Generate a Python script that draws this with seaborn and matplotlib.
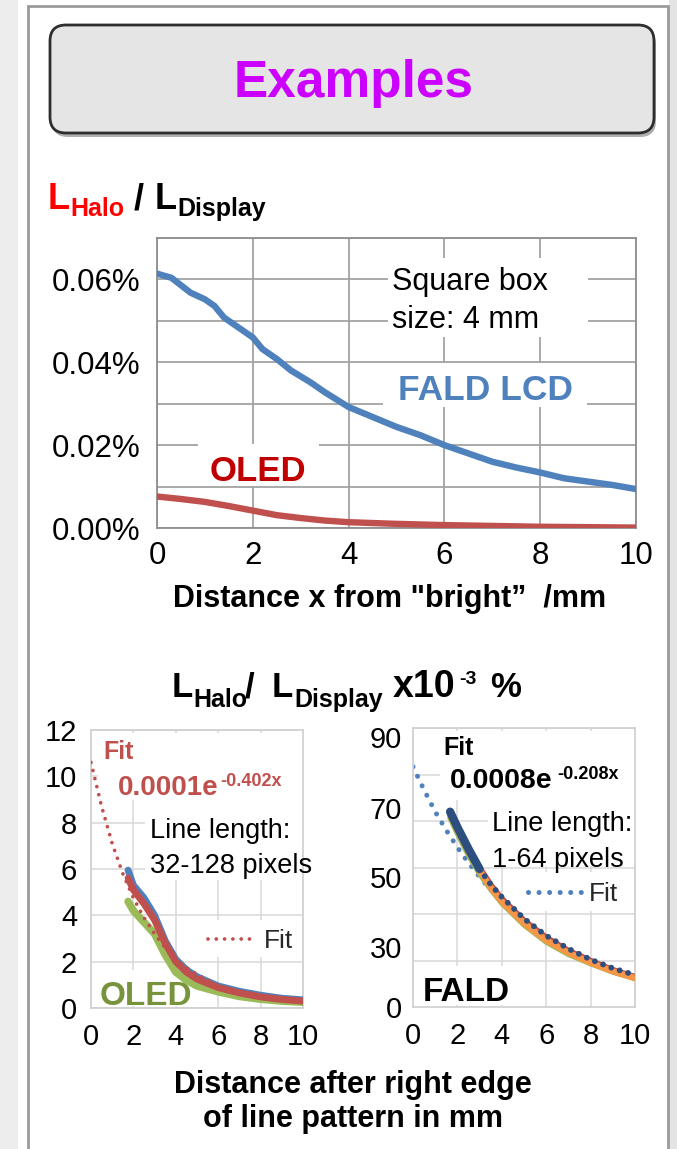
import matplotlib
matplotlib.use("Agg")
import matplotlib.pyplot as plt
from matplotlib.patches import Rectangle, FancyBboxPatch
from matplotlib.transforms import Affine2D
import seaborn as sns

# --- values ---
# top chart: L_Halo / L_Display in %, square box 4 mm
top_x_ticks = [0, 2, 4, 6, 8, 10]
top_y_ticks = [0.0, 0.01, 0.02, 0.03, 0.04, 0.05, 0.06, 0.07]
top_y_labels = ['0.00%', '', '0.02%', '', '0.04%', '', '0.06%', '']

lcd_x = [0, 0.3, 0.7, 1.0, 1.2, 1.4, 2.0, 2.2, 2.5, 2.8, 3.2, 3.5, 4.0, 4.5,
         5.0, 5.5, 6.0, 6.5, 7.0, 7.5, 8.0, 8.5, 9.0, 9.5, 10.0]
lcd_y = [0.0614, 0.0604, 0.0568, 0.0552, 0.0536, 0.0508, 0.0460, 0.0432, 0.0408,
         0.0380, 0.0352, 0.0328, 0.0292, 0.0268, 0.0244, 0.0224, 0.0200, 0.0180,
         0.0160, 0.0146, 0.0134, 0.0120, 0.0112, 0.0104, 0.0094]
oled_x = [0, 0.5, 1, 1.5, 2, 2.5, 3, 3.5, 4, 5, 6, 7, 8, 9, 10]
oled_y = [0.0076, 0.0070, 0.0063, 0.0053, 0.0042, 0.0031, 0.0024, 0.0018, 0.0014,
          0.0010, 0.0007, 0.0005, 0.0003, 0.0002, 0.0001]

# bottom charts: x10^-3 %, line patterns
fit_x = [0, 0.5, 1, 1.5, 2, 2.5, 3, 3.5, 4, 4.5, 5, 5.5, 6, 6.5, 7, 7.5, 8, 8.5, 9, 9.5, 10]
oled_fit = [10.6, 8.7, 7.1, 5.8, 4.75, 3.9, 3.2, 2.6, 2.1, 1.75, 1.45, 1.2, 0.98,
            0.82, 0.68, 0.56, 0.47, 0.4, 0.34, 0.29, 0.25]
fald_fit = [77.5, 70, 63, 57, 51.5, 46.5, 42, 37.8, 34, 30.7, 27.7, 25, 22.5, 20.3,
            18.3, 16.5, 14.9, 13.4, 12.1, 10.9, 9.8]

oled_line_x = [1.75, 2.0, 2.5, 3.0, 3.5, 4.0, 4.5, 5, 6, 7, 8, 9, 10]
oled_blue = [5.95, 5.3, 4.75, 4.0, 2.9, 2.1, 1.65, 1.35, 0.95, 0.72, 0.55, 0.42, 0.35]
oled_red = [5.6, 5.1, 4.5, 3.8, 2.8, 2.0, 1.55, 1.25, 0.88, 0.65, 0.48, 0.37, 0.3]
oled_green = [4.6, 4.2, 3.7, 3.2, 2.3, 1.55, 1.2, 0.95, 0.7, 0.5, 0.38, 0.3, 0.25]

fald_line_x = [1.67, 2, 2.5, 3, 3.5, 4, 5, 6, 7, 8, 9, 10]
fald_navy = [63, 58, 51, 44.5, 39.5, 35.5, 28.5, 23, 18.8, 15.3, 12.5, 10.3]
fald_red = [63, 58, 51, 45, 39.5, 35, 28, 22.5, 18.2, 15, 12, 9.8]
fald_green = [61, 56, 49, 43, 38, 33.5, 26.5, 21, 17, 14, 11.3, 9.2]
fald_orange = [62, 57, 50, 44, 38.5, 34, 27, 21.5, 17.5, 14.3, 11.5, 9.3]

bottom_x_ticks = [0, 2, 4, 6, 8, 10]
oled_y_ticks = [0, 2, 4, 6, 8, 10, 12]
fald_grid_y = [0, 15, 30, 45, 60, 75, 90]
# the y labels of the FALD panel sit off the grid in the original
fald_tick_pos = [0, 19.4, 41.9, 64.2, 87.1]
fald_tick_labels = ['0', '30', '50', '70', '90']

BLUE = '#4f81bd'
RED = '#c0504d'
GREEN = '#9bbb59'
ORANGE = '#f79646'
NAVY = '#2c4f80'

sns.set_theme(style='white')
plt.rcParams['font.family'] = ['Liberation Sans', 'DejaVu Sans']
plt.rcParams['axes.unicode_minus'] = False

W, H = 677, 1149
fig = plt.figure(figsize=(W / 100, H / 100), dpi=100)
fig.patch.set_facecolor('white')
# pixel coordinates, origin top-left
PX = Affine2D().scale(1 / W, -1 / H).translate(0, 1) + fig.transFigure


def px_box(x0, y0, x1, y1):
    return [x0 / W, 1 - y1 / H, (x1 - x0) / W, (y1 - y0) / H]


def label(x, y, s, size, color='black', weight='normal', ha='left'):
    fig.text(x, y, s, transform=PX, fontsize=size, color=color,
             fontweight=weight, ha=ha, va='baseline', zorder=5)


def cover(ax, x0, y0, x1, y1):
    ax.add_patch(Rectangle((x0, y0), x1 - x0, y1 - y0, transform=PX,
                           fc='white', ec='none', zorder=1))


def dotted(size, gap):
    return dict(lw=size, linestyle=(0, (0.01, gap)), dash_capstyle='round')


# --- slide frame and header ---
fig.add_artist(Rectangle((0, 0), 18, H, transform=PX, fc='#ededed', ec='none', zorder=0))
fig.add_artist(Rectangle((669, 0), 8, H, transform=PX, fc='#e4e4e4', ec='none', zorder=0))
fig.add_artist(Rectangle((28, 6), 640, H, transform=PX, fc='white', ec='#9a9a9a',
                         lw=2, zorder=0))
fig.add_artist(FancyBboxPatch((52, 29), 604, 108, transform=PX,
                              boxstyle='round,pad=0,rounding_size=16',
                              fc='#6e6e6e', ec='none', alpha=0.55, zorder=0.2))
fig.add_artist(FancyBboxPatch((50, 25), 604, 108, transform=PX,
                              boxstyle='round,pad=0,rounding_size=16',
                              fc='#e5e5e5', ec='#2e2e2e', lw=2, zorder=0.3))
label(354, 97, 'Examples', 37, color='#cc00ff', weight='bold', ha='center')

# --- top chart ---
label(48, 209, 'L', 26, color='#ff0000', weight='bold')
label(70, 216, 'Halo', 18, color='#ff0000', weight='bold')
label(134, 209, '/', 26, weight='bold')
label(155, 209, 'L', 26, weight='bold')
label(177, 216, 'Display', 18, weight='bold')

ax1 = fig.add_axes(px_box(157, 238, 636, 528))
ax1.set_axisbelow(True)
sns.lineplot(x=oled_x, y=oled_y, ax=ax1, color=RED, lw=4.6, sort=False,
             estimator=None, zorder=3, solid_capstyle='round')
sns.lineplot(x=lcd_x, y=lcd_y, ax=ax1, color=BLUE, lw=4.6, sort=False,
             estimator=None, zorder=3, solid_capstyle='round')
ax1.set_xlim(0, 10)
ax1.set_ylim(0, 0.07)
ax1.set_xticks(top_x_ticks)
ax1.set_yticks(top_y_ticks)
ax1.set_yticklabels(top_y_labels)
ax1.grid(True, color='#a3a3a3', lw=1.3)
for side, sp in ax1.spines.items():
    sp.set_color('#8f8f8f')
    sp.set_linewidth(1.3)
ax1.tick_params(axis='x', length=0, pad=9, labelsize=22.5, labelcolor='black')
ax1.tick_params(axis='y', length=0, pad=12, labelsize=22.5, labelcolor='black')
ax1.set_xlabel('')
ax1.set_ylabel('')
cover(ax1, 388, 258, 588, 337)
cover(ax1, 383, 363, 587, 407)
cover(ax1, 198, 444, 319, 486)
label(392, 290, 'Square box', 22)
label(392, 328, 'size: 4 mm', 22)
label(485, 400, 'FALD LCD', 25.5, color=BLUE, weight='bold', ha='center')
label(258, 481, 'OLED', 25, color='#c00000', weight='bold', ha='center')
label(390, 607, 'Distance x from "bright\u201d  /mm', 22, weight='bold', ha='center')

# --- second title ---
label(172, 697, 'L', 25, weight='bold')
label(193, 707, 'Halo', 18, weight='bold')
label(245, 697, '/', 25, weight='bold')
label(272, 697, 'L', 25, weight='bold')
label(294, 707, 'Display', 18, weight='bold')
label(393, 697, 'x10', 27, weight='bold')
label(459, 684, '-3', 14, weight='bold')
label(490, 697, '%', 25, weight='bold')

# --- bottom left: OLED ---
ax2 = fig.add_axes(px_box(91, 730, 303, 1008))
ax2.set_axisbelow(True)
sns.lineplot(x=oled_line_x, y=oled_blue, ax=ax2, color=BLUE, lw=5, sort=False,
             estimator=None, zorder=3)
sns.lineplot(x=oled_line_x, y=oled_green, ax=ax2, color=GREEN, lw=5.5, sort=False,
             estimator=None, zorder=3)
sns.lineplot(x=oled_line_x, y=oled_red, ax=ax2, color=RED, lw=5, sort=False,
             estimator=None, zorder=3)
sns.lineplot(x=fit_x, y=oled_fit, ax=ax2, color=RED, sort=False, estimator=None,
             zorder=4, label='Fit', **dotted(2.7, 2.2))
ax2.set_xlim(0, 10)
ax2.set_ylim(0, 12)
ax2.set_xticks(bottom_x_ticks)
ax2.set_yticks(oled_y_ticks)
ax2.grid(True, color='#d9d9d9', lw=1.1)
for sp in ax2.spines.values():
    sp.set_color('#d0d0d0')
ax2.tick_params(axis='x', length=0, pad=11, labelsize=21, labelcolor='black')
ax2.tick_params(axis='y', length=0, pad=10, labelsize=21, labelcolor='black')
ax2.set_xlabel('')
ax2.set_ylabel('')
cover(ax2, 98, 733, 303, 800)
cover(ax2, 145, 800, 303, 880)
cover(ax2, 205, 920, 297, 957)
cover(ax2, 95, 970, 200, 1006)
ax2.legend(handles=[ax2.lines[-1]], labels=['Fit'], loc='center left',
           bbox_to_anchor=(208, 941), bbox_transform=PX, frameon=False,
           fontsize=19, handlelength=1.8, handletextpad=0.3,
           borderpad=0, borderaxespad=0)
label(103, 759, 'Fit', 18, color=RED, weight='bold')
label(118, 795, '0.0001e', 20, color=RED, weight='bold')
label(220, 786, '-0.402x', 13, color=RED, weight='bold')
label(150, 838, 'Line length:', 19.5)
label(150, 873, '32-128 pixels', 19.5)
label(100, 1005, 'OLED', 24, color='#77933c', weight='bold')

# --- bottom right: FALD ---
ax3 = fig.add_axes(px_box(413, 728, 635, 1007))
ax3.set_axisbelow(True)
sns.lineplot(x=fit_x, y=fald_fit, ax=ax3, color=BLUE, sort=False, estimator=None,
             zorder=2.5, label='Fit', **dotted(3.6, 2.1))
fit_handle = ax3.lines[-1]
sns.lineplot(x=fald_line_x, y=fald_green, ax=ax3, color=GREEN, lw=4, sort=False,
             estimator=None, zorder=3)
sns.lineplot(x=fald_line_x, y=fald_red, ax=ax3, color=RED, lw=4, sort=False,
             estimator=None, zorder=3)
sns.lineplot(x=fald_line_x, y=fald_orange, ax=ax3, color=ORANGE, lw=4.5, sort=False,
             estimator=None, zorder=3)
navy_head = [i for i, v in enumerate(fald_line_x) if v <= 3]
navy_tail = [i for i, v in enumerate(fald_line_x) if v >= 3]
sns.lineplot(x=[fald_line_x[i] for i in navy_head], y=[fald_navy[i] for i in navy_head],
             ax=ax3, color=NAVY, lw=6, sort=False, estimator=None, zorder=4)
sns.lineplot(x=[fald_line_x[i] for i in navy_tail], y=[fald_navy[i] for i in navy_tail],
             ax=ax3, color=NAVY, sort=False, estimator=None, zorder=4,
             **dotted(4.2, 1.5))
ax3.set_xlim(0, 10)
ax3.set_ylim(0, 90)
ax3.set_xticks(bottom_x_ticks)
ax3.set_yticks(fald_tick_pos)
ax3.set_yticklabels(fald_tick_labels)
ax3.set_yticks(fald_grid_y, minor=True)
ax3.grid(True, axis='x', color='#d9d9d9', lw=1.1)
ax3.grid(True, axis='y', which='minor', color='#d9d9d9', lw=1.1)
ax3.grid(False, axis='y', which='major')
for sp in ax3.spines.values():
    sp.set_color('#d0d0d0')
ax3.tick_params(axis='x', length=0, pad=11, labelsize=21, labelcolor='black')
ax3.tick_params(axis='y', which='both', length=0, pad=8, labelsize=21, labelcolor='black')
ax3.set_xlabel('')
ax3.set_ylabel('')
cover(ax3, 440, 731, 636, 800)
cover(ax3, 488, 800, 636, 866)
cover(ax3, 524, 872, 626, 911)
cover(ax3, 418, 966, 522, 1005)
ax3.legend(handles=[fit_handle], labels=['Fit'], loc='center left',
           bbox_to_anchor=(528, 894), bbox_transform=PX, frameon=False,
           fontsize=19, handlelength=2.0, handletextpad=0.3,
           borderpad=0, borderaxespad=0)
label(443, 755, 'Fit', 18, weight='bold')
label(450, 788, '0.0008e', 20.5, weight='bold')
label(557, 779, '-0.208x', 13, weight='bold')
label(492, 831, 'Line length:', 19.5)
label(492, 867, '1-64 pixels', 19.5)
label(423, 1001, 'FALD', 24, weight='bold')

label(353, 1093, 'Distance after right edge', 22, weight='bold', ha='center')
label(353, 1127, 'of line pattern in mm', 22, weight='bold', ha='center')

fig.savefig('out.png', dpi=100)
